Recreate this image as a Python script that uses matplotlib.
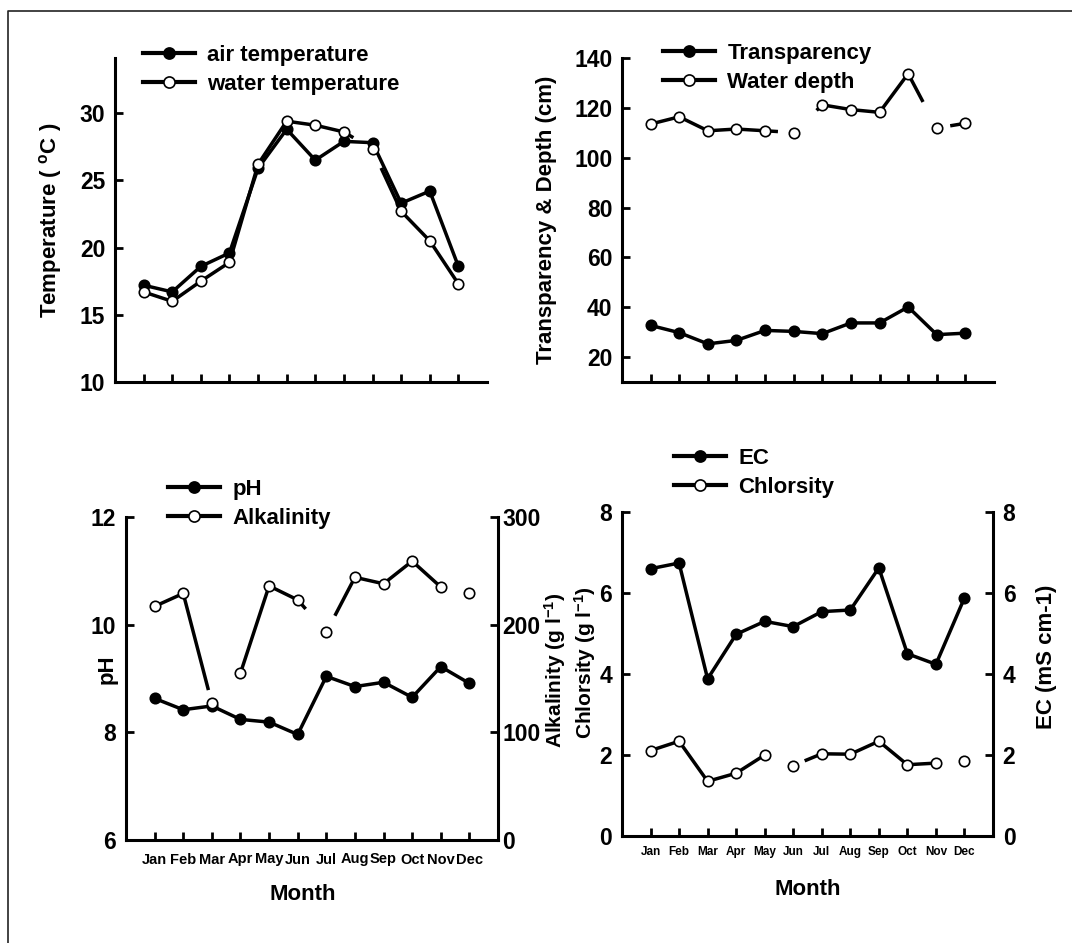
import matplotlib
matplotlib.use("Agg")
import matplotlib.pyplot as plt
from matplotlib.lines import Line2D
import numpy as np

# -----------------------------------------------------------------------------
# Data (monthly means)
# -----------------------------------------------------------------------------
months = ['Jan', 'Feb', 'Mar', 'Apr', 'May', 'Jun',
          'Jul', 'Aug', 'Sep', 'Oct', 'Nov', 'Dec']

air_temp = [17.2, 16.7, 18.6, 19.6, 25.9, 28.8, 26.5, 27.9, 27.8, 23.3, 24.2, 18.6]
water_temp = [16.7, 16.0, 17.5, 18.9, 26.2, 29.4, 29.1, 28.6, 27.3, 22.7, 20.5, 17.3]

transparency = [32.7, 29.8, 25.3, 26.7, 30.7, 30.3, 29.4, 33.7, 33.7, 40.1, 29.0, 29.6]
water_depth = [113.5, 116.4, 110.8, 111.5, 110.8, 110.1, 121.2, 119.3, 118.2, 133.7, 111.9, 113.8]

ph = [8.63, 8.42, 8.49, 8.24, 8.19, 7.96, 9.04, 8.85, 8.93, 8.65, 9.22, 8.91]
alkalinity = [217, 229, 127, 155, 236, 223, 193, 244, 238, 259, 235, 229]

ec = [6.60, 6.74, 3.88, 4.98, 5.30, 5.17, 5.54, 5.58, 6.62, 4.50, 4.24, 5.88]
chlorsity = [2.11, 2.34, 1.35, 1.55, 2.00, 1.74, 2.03, 2.02, 2.34, 1.76, 1.80, 1.84]

# the original drawing has broken connecting lines:
# segment index -> drawn part (t0, t1) of that segment, None = not drawn
water_temp_segs = {7: (0, 0.33), 8: (0.3, 1)}
water_depth_segs = {4: (0, 0.45), 5: (0.8, 1), 9: (0, 0.52), 10: (0.47, 1)}
alkalinity_segs = {1: (0, 0.88), 2: None, 5: (0, 0.28), 6: (0.3, 1), 10: None}
chlorsity_segs = {4: None, 5: (0.4, 1), 10: None}

# -----------------------------------------------------------------------------
# Style
# -----------------------------------------------------------------------------
plt.rcParams['font.family'] = ['Liberation Sans', 'DejaVu Sans']
plt.rcParams['font.weight'] = 'bold'
plt.rcParams['axes.labelweight'] = 'bold'
plt.rcParams['mathtext.fontset'] = 'custom'
plt.rcParams['mathtext.rm'] = 'Liberation Sans:bold'
plt.rcParams['mathtext.it'] = 'Liberation Sans:bold'
plt.rcParams['mathtext.bf'] = 'Liberation Sans:bold'

W, H = 1072, 943
LW = 2.5
MS = 7.5
TICK_FS = 16.5
LABEL_FS = 16

fig = plt.figure(figsize=(W / 100, H / 100), dpi=100)


def px_axes(x0, y0, x1, y1):
    """axes from pixel box (top-left origin)"""
    return fig.add_axes([x0 / W, 1 - y1 / H, (x1 - x0) / W, (y1 - y0) / H])


def draw_series(ax, values, filled, segs=None):
    segs = segs or {}
    x = np.arange(1, len(values) + 1, dtype=float)
    y = np.asarray(values, dtype=float)
    xs, ys = [], []
    for i in range(len(y) - 1):
        part = segs.get(i, (0, 1))
        if part is None:
            continue
        t0, t1 = part
        p0 = (x[i] + t0 * (x[i + 1] - x[i]), y[i] + t0 * (y[i + 1] - y[i]))
        p1 = (x[i] + t1 * (x[i + 1] - x[i]), y[i] + t1 * (y[i + 1] - y[i]))
        if t0 == 0 and xs and xs[-1] == x[i] and ys[-1] == y[i]:
            xs.append(p1[0]); ys.append(p1[1])
        else:
            xs += [np.nan, p0[0], p1[0]]
            ys += [np.nan, p0[1], p1[1]]
    ax.plot(xs, ys, color='black', lw=LW, solid_capstyle='butt', zorder=2)
    face = 'black' if filled else 'white'
    ax.plot(x, y, 'o', ms=MS, mfc=face, mec='black', mew=1.2, zorder=3)
    return Line2D([], [], color='black', lw=LW + 0.5, marker='o', ms=MS + 0.5,
                  mfc=face, mec='black', mew=1.2)


def style_axes(ax, month_labels=None, month_fs=10, month_pad=8):
    ax.spines['top'].set_visible(False)
    ax.spines['right'].set_visible(False)
    for s in ('left', 'bottom'):
        ax.spines[s].set_linewidth(2.2)
    ax.set_xlim(0, 13)
    ax.set_xticks(range(1, 13))
    ax.tick_params(direction='in', length=6, width=2, labelsize=TICK_FS, pad=7)
    if month_labels is None:
        ax.set_xticklabels([])
    else:
        ax.set_xticklabels(month_labels, fontsize=month_fs, fontweight='bold')
        ax.tick_params(axis='x', pad=month_pad)
    for lab in ax.get_yticklabels():
        lab.set_fontweight('bold')


def style_twin(ax, pad=7):
    for s in ('left', 'top', 'bottom'):
        ax.spines[s].set_visible(False)
    ax.spines['right'].set_linewidth(2.2)
    ax.tick_params(direction='in', length=6, width=2, labelsize=TICK_FS, pad=pad)
    for lab in ax.get_yticklabels():
        lab.set_fontweight('bold')


def add_legend(ax, handles, labels, x_px, row1_px):
    top = row1_px - 9
    ax.legend(handles, labels, loc='upper left',
              bbox_to_anchor=(x_px / W, 1 - top / H),
              bbox_transform=fig.transFigure, frameon=False,
              borderpad=0, borderaxespad=0, handlelength=2.35,
              handletextpad=0.55, labelspacing=0.34,
              prop={'size': LABEL_FS, 'weight': 'bold'})


# -----------------------------------------------------------------------------
# Top left: temperature
# -----------------------------------------------------------------------------
ax1 = px_axes(115, 58, 487, 382)
h_air = draw_series(ax1, air_temp, True)
h_wat = draw_series(ax1, water_temp, False, water_temp_segs)
ax1.set_ylim(10, 34.1)
ax1.set_yticks([10, 15, 20, 25, 30])
style_axes(ax1)
ax1.set_ylabel('Temperature ( $^{o}$C )', fontsize=LABEL_FS)
ax1.yaxis.set_label_coords((64 - 115) / 372, 0.5)
add_legend(ax1, [h_air, h_wat], ['air temperature', 'water temperature'], 143, 54)

# -----------------------------------------------------------------------------
# Top right: transparency & depth
# -----------------------------------------------------------------------------
ax2 = px_axes(622, 58, 994, 382)
h_tr = draw_series(ax2, transparency, True)
h_dp = draw_series(ax2, water_depth, False, water_depth_segs)
ax2.set_ylim(10, 140)
ax2.set_yticks(range(20, 141, 20))
style_axes(ax2)
ax2.set_ylabel('Transparency & Depth (cm)', fontsize=LABEL_FS)
ax2.yaxis.set_label_coords((557 - 622) / 372, 0.5)
add_legend(ax2, [h_tr, h_dp], ['Transparency', 'Water depth'], 663, 52)

# -----------------------------------------------------------------------------
# Bottom left: pH & alkalinity
# -----------------------------------------------------------------------------
ax3 = px_axes(126, 517, 498, 840)
h_ph = draw_series(ax3, ph, True)
ax3.set_ylim(6, 12)
ax3.set_yticks([6, 8, 10, 12])
style_axes(ax3, months, month_fs=10.5, month_pad=9)
ax3.set_ylabel('pH', fontsize=LABEL_FS)
ax3.yaxis.set_label_coords((118 - 126) / 372, 0.53)
ax3.set_xlabel('Month', fontsize=LABEL_FS)
ax3.xaxis.set_label_coords((303 - 126) / 372, -0.135)

ax3r = ax3.twinx()
h_alk = draw_series(ax3r, alkalinity, False, alkalinity_segs)
ax3r.set_ylim(0, 300)
ax3r.set_yticks([0, 100, 200, 300])
ax3r.set_xlim(0, 13)
style_twin(ax3r, pad=3)
ax3r.set_ylabel('Alkalinity (g l$^{-1}$)', fontsize=15, rotation=90)
ax3r.yaxis.set_label_coords((542 - 126) / 372, 0.526)
add_legend(ax3r, [h_ph, h_alk], ['pH', 'Alkalinity'], 168, 488)

# -----------------------------------------------------------------------------
# Bottom right: chlorsity & EC
# -----------------------------------------------------------------------------
ax4 = px_axes(622, 512, 993, 836)
h_cl = draw_series(ax4, chlorsity, False, chlorsity_segs)
ax4.set_ylim(0, 8)
ax4.set_yticks([0, 2, 4, 6, 8])
style_axes(ax4, months, month_fs=8.5, month_pad=7)
ax4.set_ylabel('Chlorsity (g l$^{-1}$)', fontsize=15)
ax4.yaxis.set_label_coords((598 - 622) / 371, 0.534)
ax4.set_xlabel('Month', fontsize=LABEL_FS, labelpad=15)

ax4r = ax4.twinx()
h_ec = draw_series(ax4r, ec, True)
ax4r.set_ylim(0, 8)
ax4r.set_yticks([0, 2, 4, 6, 8])
ax4r.set_xlim(0, 13)
style_twin(ax4r, pad=7)
ax4r.set_ylabel('EC (mS cm-1)', fontsize=LABEL_FS, rotation=90)
ax4r.yaxis.set_label_coords((1036 - 622) / 371, 0.552)
add_legend(ax4r, [h_ec, h_cl], ['EC', 'Chlorsity'], 674, 457)

# outer frame (only left and top edges fall inside the picture)
fig.add_artist(Line2D([7.5 / W, 7.5 / W, 1.05], [-0.05, 1 - 11 / H, 1 - 11 / H],
                      transform=fig.transFigure, color='#222222', lw=1.2))

fig.savefig('out.png', dpi=100)
